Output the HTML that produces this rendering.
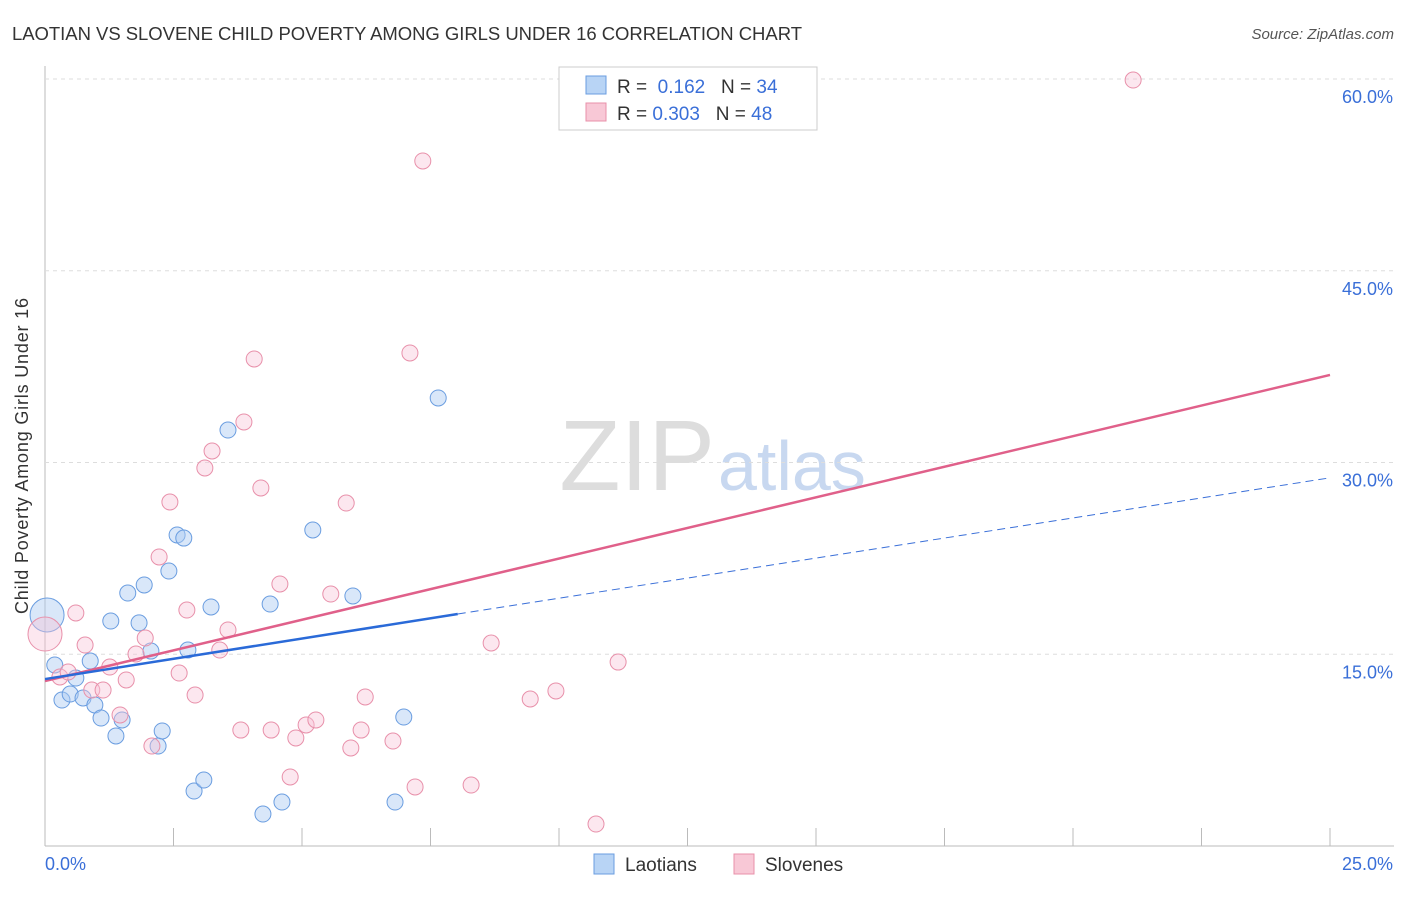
<!DOCTYPE html>
<html><head><meta charset="utf-8"><style>
body{margin:0;background:#fff;font-family:"Liberation Sans",sans-serif;}
svg text{font-family:"Liberation Sans",sans-serif;}
</style></head><body>
<svg id="c" width="1406" height="892">
<text x="12" y="40" font-size="18.5" fill="#333" textLength="790">LAOTIAN VS SLOVENE CHILD POVERTY AMONG GIRLS UNDER 16 CORRELATION CHART</text>
<text x="1394" y="39" font-size="15" fill="#555" text-anchor="end" font-style="italic">Source: ZipAtlas.com</text>
<text x="28" y="456" font-size="18" fill="#333" text-anchor="middle" transform="rotate(-90 28 456)" textLength="316">Child Poverty Among Girls Under 16</text>
<text x="715" y="490" font-size="100" fill="#ddd" text-anchor="end" font-family="Liberation Serif">ZIP</text>
<text x="718" y="490" font-size="70" fill="#c8d8f0">atlas</text>
<g id="grid"></g><g id="lines"></g><g id="pts"></g>
<g>
<rect x="559" y="67" width="258" height="63" fill="#fff" stroke="#ccc"/>
<rect x="586" y="76" width="20" height="18" fill="#b8d4f5" stroke="#6a9de0"/>
<text x="617" y="93" font-size="19" fill="#333">R = <tspan fill="#3a6fd8">&#160;0.162</tspan>&#160;&#160;&#160;N = <tspan fill="#3a6fd8">34</tspan></text>
<rect x="586" y="103" width="20" height="18" fill="#f8c8d6" stroke="#e890aa"/>
<text x="617" y="120" font-size="19" fill="#333">R = <tspan fill="#3a6fd8">0.303</tspan>&#160;&#160;&#160;N = <tspan fill="#3a6fd8">48</tspan></text>
</g>
<g>
<rect x="594" y="854" width="20" height="20" fill="#b8d4f5" stroke="#6a9de0"/>
<text x="625" y="871" font-size="19" fill="#333">Laotians</text>
<rect x="734" y="854" width="20" height="20" fill="#f8c8d6" stroke="#e890aa"/>
<text x="765" y="871" font-size="19" fill="#333">Slovenes</text>
</g>
</svg>
<script>
const blueX=[0.04,0.19,0.33,0.49,0.60,0.74,0.88,0.97,1.09,1.28,1.38,1.50,1.61,1.83,1.93,2.06,2.20,2.28,2.41,2.57,2.70,2.78,2.90,3.09,3.23,3.56,4.24,4.38,4.61,5.21,5.99,6.81,6.98,7.65];
const blueY=[18.07,14.16,11.42,11.89,13.14,11.58,14.47,11.03,10.01,17.60,8.61,9.86,19.79,17.45,20.42,15.25,7.82,9.00,21.51,24.33,24.09,15.33,4.30,5.16,18.70,32.54,2.50,18.93,3.44,24.72,19.56,3.44,10.09,35.05];
const pinkX=[0,0.29,0.45,0.60,0.78,0.91,1.13,1.26,1.46,1.58,1.77,1.95,2.08,2.22,2.43,2.61,2.76,2.92,3.11,3.25,3.40,3.56,3.81,3.87,4.07,4.20,4.40,4.57,4.77,4.88,5.08,5.27,5.56,5.86,5.95,6.15,6.23,6.77,7.10,7.20,7.35,8.29,8.68,9.44,9.94,10.72,11.15,21.17];
const pinkY=[16.58,13.22,13.61,18.23,15.72,12.20,12.20,14.00,10.25,12.99,15.02,16.27,7.82,22.61,26.91,13.53,18.46,11.81,29.57,30.90,15.33,16.90,9.07,33.17,38.10,28.01,9.07,20.50,5.40,8.45,9.47,9.86,19.71,26.83,7.67,9.07,11.66,8.21,38.57,4.62,53.59,4.77,15.88,11.50,12.13,1.72,14.39,59.92];
const yTicks=[15,30,45,60];
const xTicks=[0,2.5,5,7.5,10,12.5,15,17.5,20,22.5,25];
const blueLine=[13.06,18.15,28.8];
const pinkLine=[12.91,36.85];
const NS='http://www.w3.org/2000/svg';
const X=v=>45+v/25*1285, Y=v=>846-v*12.783;
function mk(t,a,p){const e=document.createElementNS(NS,t);for(const k in a)e.setAttribute(k,a[k]);p.appendChild(e);return e;}
const g=document.getElementById('grid');
mk('line',{x1:45,y1:66,x2:45,y2:846,stroke:'#bbb'},g);
mk('line',{x1:45,y1:846,x2:1394,y2:846,stroke:'#bbb'},g);
yTicks.forEach(t=>{const l=mk('line',{x1:45,y1:Y(t),x2:1394,y2:Y(t),stroke:'#ddd','stroke-dasharray':'4,4'},g);


const tx=mk('text',{x:1393,y:Y(t)+24,'font-size':18,fill:'#3a6fd8','text-anchor':'end'},g);tx.textContent=t.toFixed(1)+'%';

});
xTicks.forEach(t=>{const l=mk('line',{x1:X(t),y1:828,x2:X(t),y2:846,stroke:'#bbb'},g);

});
[[0,'0.0%','start',45],[25,'25.0%','end',1393]].forEach(([v,s,a,x])=>{const tx=mk('text',{x:x,y:870,'font-size':18,fill:'#3a6fd8','text-anchor':a},g);tx.textContent=s;

});
const L=document.getElementById('lines');
let l1=mk('line',{x1:X(8.03),y1:Y(blueLine[1]),x2:X(25),y2:Y(blueLine[2]),stroke:'#3a6fd8','stroke-width':1,'stroke-dasharray':'8,5'},L);


const P=document.getElementById('pts');
blueX.forEach((v,i)=>{const c=mk('circle',{cx:X(v),cy:Y(blueY[i]),r:i==0?17:8,fill:'rgba(170,202,242,0.45)',stroke:'#6a9de0','stroke-width':1},P);

});
pinkX.forEach((v,i)=>{const c=mk('circle',{cx:X(v),cy:Y(pinkY[i]),r:i==0?17:8,fill:'rgba(248,196,214,0.4)',stroke:'#e890aa','stroke-width':1},P);

});
let l2=mk('line',{x1:X(0),y1:Y(pinkLine[0]),x2:X(25),y2:Y(pinkLine[1]),stroke:'#e0608a','stroke-width':2.5},P);


let l3=mk('line',{x1:X(0),y1:Y(blueLine[0]),x2:X(8.03),y2:Y(blueLine[1]),stroke:'#2a6ad8','stroke-width':2.5},P);


</script>
</body></html>
